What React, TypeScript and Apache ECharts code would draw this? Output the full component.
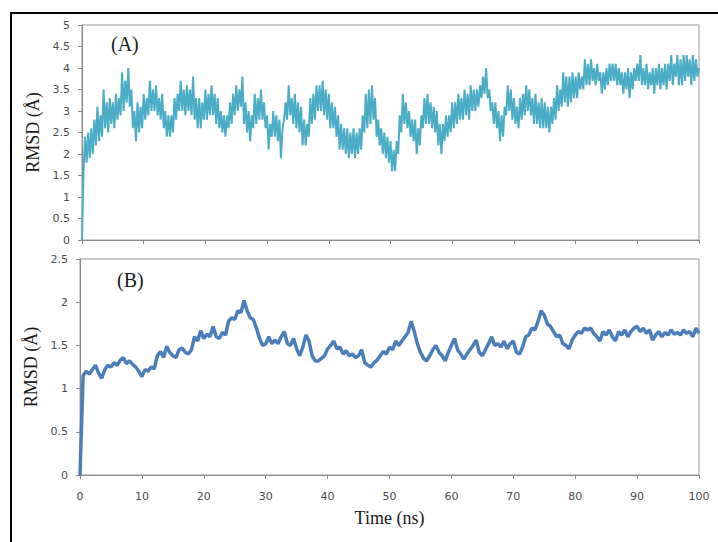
import React, { useEffect, useRef } from "react";
import * as echarts from "echarts";

// Time axes (ns)
const timeA: number[] = Array.from({ length: 401 }, (_, i) => i * 0.25);
const timeB: number[] = Array.from({ length: 201 }, (_, i) => i * 0.5);

// Panel (A) RMSD values (Å), one per 0.25 ns
const rmsdA: number[] = [
  0, 1.6, 2.4, 1.8, 2.5, 1.9, 2.6, 2.0, 2.8, 2.2, 3.1, 2.3, 2.9, 2.4, 3.5, 2.6, 3.2, 2.5, 3.3, 2.7,
  3.2, 2.6, 3.4, 2.8, 3.3, 2.9, 3.9, 3.0, 3.7, 3.2, 4.0, 3.1, 3.5, 2.6, 3.0, 2.3, 3.2, 2.5, 3.1, 2.6,
  3.4, 2.8, 3.3, 2.9, 3.7, 3.0, 3.5, 3.0, 3.6, 2.9, 3.3, 2.8, 3.4, 2.6, 3.0, 2.4, 2.9, 2.4, 2.9, 2.5,
  3.3, 2.8, 3.4, 3.0, 3.7, 3.0, 3.5, 2.9, 3.6, 3.0, 3.5, 2.9, 3.8, 2.8, 3.3, 2.6, 3.3, 2.6, 3.2, 2.8,
  3.5, 2.8, 3.4, 2.9, 3.6, 2.9, 3.4, 2.7, 3.3, 2.6, 3.0, 2.5, 2.9, 2.4, 2.9, 2.6, 3.2, 2.7, 3.4, 2.9,
  3.6, 3.0, 3.5, 3.1, 3.8, 2.7, 3.2, 2.5, 3.0, 2.3, 2.9, 2.6, 3.4, 2.7, 3.3, 2.8, 3.5, 2.8, 3.2, 2.6,
  2.9, 2.1, 2.7, 2.4, 3.0, 2.4, 2.9, 2.3, 2.8, 1.9, 2.6, 2.8, 3.2, 2.8, 3.6, 2.9, 3.3, 2.7, 3.4, 2.6,
  3.2, 2.5, 3.1, 2.2, 2.8, 2.2, 2.7, 2.4, 3.3, 2.7, 3.4, 2.8, 3.6, 3.0, 3.6, 3.0, 3.7, 2.9, 3.5, 2.8,
  3.4, 2.6, 3.2, 2.6, 3.1, 2.4, 2.9, 2.1, 2.7, 2.1, 2.6, 2.0, 2.6, 1.9, 2.5, 2.0, 2.6, 1.9, 2.5, 2.0,
  2.6, 2.1, 2.9, 2.5, 3.4, 2.6, 3.5, 2.7, 3.6, 2.8, 3.3, 2.4, 2.8, 2.2, 2.6, 2.0, 2.5, 1.9, 2.4, 1.8,
  2.3, 1.6, 2.1, 1.6, 2.3, 2.0, 2.9, 2.5, 3.4, 2.7, 3.2, 2.6, 3.0, 2.4, 2.8, 2.3, 2.8, 2.0, 2.6, 2.2,
  2.9, 2.6, 3.3, 2.7, 3.4, 2.7, 3.2, 2.6, 3.1, 2.5, 3.0, 2.2, 2.7, 2.0, 2.7, 2.3, 2.9, 2.4, 2.9, 2.5,
  3.2, 2.6, 3.2, 2.7, 3.4, 2.8, 3.3, 2.8, 3.5, 2.9, 3.4, 2.8, 3.6, 3.0, 3.5, 3.0, 3.5, 3.1, 3.6, 3.3,
  3.8, 3.4, 4.0, 3.3, 3.5, 3.0, 3.2, 2.7, 3.2, 2.6, 3.0, 2.3, 2.9, 2.4, 3.1, 2.9, 3.6, 3.0, 3.5, 2.8,
  3.3, 2.7, 3.1, 2.6, 3.3, 2.8, 3.4, 2.9, 3.6, 3.0, 3.5, 2.9, 3.3, 2.7, 3.4, 2.7, 3.2, 2.6, 3.3, 2.6,
  3.2, 2.6, 3.1, 2.5, 3.1, 2.7, 3.3, 2.8, 3.6, 3.0, 3.5, 3.1, 3.9, 3.2, 3.8, 3.1, 3.8, 3.2, 3.9, 3.3,
  3.8, 3.3, 3.9, 3.5, 3.8, 3.5, 4.2, 3.6, 4.1, 3.6, 4.2, 3.7, 4.0, 3.6, 4.1, 3.7, 3.9, 3.4, 3.9, 3.5,
  4.0, 3.6, 4.1, 3.7, 4.1, 3.7, 4.1, 3.6, 4.0, 3.6, 3.9, 3.4, 3.9, 3.5, 4.0, 3.3, 3.9, 3.5, 4.0, 3.7,
  4.1, 3.7, 4.3, 3.6, 4.0, 3.6, 4.1, 3.5, 3.9, 3.6, 4.0, 3.4, 4.0, 3.6, 4.1, 3.5, 4.0, 3.6, 4.1, 3.5,
  4.1, 3.7, 4.3, 3.6, 4.1, 3.8, 4.3, 3.6, 4.2, 3.6, 4.3, 3.7, 4.3, 3.8, 4.2, 3.6, 4.3, 3.7, 4.2, 3.8,
  4.0,
];

// Panel (B) RMSD values (Å), one per 0.5 ns
const rmsdB: number[] = [
  0, 1.15, 1.2, 1.17, 1.22, 1.27, 1.18, 1.12, 1.22, 1.27,
  1.25, 1.3, 1.27, 1.33, 1.36, 1.29, 1.32, 1.28, 1.25, 1.2,
  1.14, 1.22, 1.2, 1.25, 1.23, 1.38, 1.43, 1.36, 1.49, 1.42,
  1.38, 1.36, 1.45, 1.47, 1.42, 1.4, 1.45, 1.6, 1.55, 1.67,
  1.58, 1.63, 1.6, 1.72, 1.6, 1.58, 1.65, 1.62, 1.78, 1.82,
  1.8, 1.9, 1.88, 2.02, 1.9, 1.82, 1.8, 1.7, 1.58, 1.5,
  1.52, 1.6, 1.52, 1.56, 1.52, 1.6, 1.66, 1.52, 1.5, 1.58,
  1.46, 1.38, 1.48, 1.62, 1.55, 1.38, 1.32, 1.32, 1.35, 1.38,
  1.46, 1.5, 1.55, 1.46, 1.48, 1.4, 1.44, 1.38, 1.4, 1.36,
  1.38, 1.45, 1.3, 1.27, 1.25, 1.3, 1.33, 1.38, 1.43, 1.4,
  1.48, 1.45, 1.55, 1.5, 1.55, 1.6, 1.65, 1.78, 1.66, 1.52,
  1.42, 1.35, 1.32, 1.38, 1.45, 1.5, 1.42, 1.38, 1.32, 1.42,
  1.5, 1.58, 1.45, 1.4, 1.34, 1.4, 1.45, 1.5, 1.56, 1.42,
  1.38, 1.45, 1.52, 1.6, 1.5, 1.52, 1.48, 1.55, 1.46, 1.52,
  1.55, 1.42, 1.4, 1.48, 1.6, 1.62, 1.7, 1.68, 1.78, 1.9,
  1.85, 1.75, 1.72, 1.66, 1.6, 1.62, 1.52, 1.5, 1.46, 1.56,
  1.62, 1.66, 1.64, 1.7, 1.68, 1.7, 1.64, 1.6, 1.55, 1.66,
  1.62, 1.68, 1.6, 1.55, 1.66, 1.62, 1.68, 1.6, 1.66, 1.7,
  1.72, 1.66, 1.7, 1.64, 1.68, 1.56, 1.62, 1.66, 1.6, 1.65,
  1.62, 1.68, 1.63, 1.65, 1.62, 1.68, 1.64, 1.66, 1.6, 1.7,
  1.64,
];

const panelLabels: string[] = ["(A)", "(B)"];
const yAxisTitle = "RMSD (Å)";
const xAxisTitle = "Time (ns)";

const labelFont = "DejaVu Sans";
const serif = "Liberation Serif";

export default function App() {
  const ref = useRef<HTMLDivElement>(null);
  useEffect(() => {
    if (!ref.current) return;
    const chart = echarts.init(ref.current, undefined, { renderer: "svg" });
    const axisLineStyle = { color: "#8a8a8a", width: 1 };
    const labelStyle = { color: "#4d4d4d", fontFamily: labelFont, fontSize: 11 };
    const nameStyle = { color: "#1a1a1a", fontFamily: serif, fontSize: 18 };
    chart.setOption({
      animation: false,
      backgroundColor: "#ffffff",
      grid: [
        { left: 82, top: 25, width: 617, height: 215, show: true, borderColor: "#9a9a9a", borderWidth: 1 },
        { left: 80, top: 259, width: 619, height: 216, show: true, borderColor: "#9a9a9a", borderWidth: 1 },
      ],
      xAxis: [
        {
          gridIndex: 0, type: "value", min: 0, max: 100, interval: 10,
          axisLine: { show: true, lineStyle: axisLineStyle },
          axisTick: { show: true, length: 4, lineStyle: axisLineStyle },
          axisLabel: { show: false },
          splitLine: { show: false },
        },
        {
          gridIndex: 1, type: "value", min: 0, max: 100, interval: 10,
          axisLine: { show: true, lineStyle: axisLineStyle },
          axisTick: { show: true, length: 4, lineStyle: axisLineStyle },
          axisLabel: { ...labelStyle, margin: 16 },
          splitLine: { show: false },
          name: xAxisTitle, nameLocation: "middle", nameGap: 34,
          nameTextStyle: nameStyle,
        },
      ],
      yAxis: [
        {
          gridIndex: 0, type: "value", min: 0, max: 5, interval: 0.5,
          axisLine: { show: true, lineStyle: axisLineStyle },
          axisTick: { show: true, length: 4, lineStyle: axisLineStyle },
          axisLabel: { ...labelStyle, margin: 12 },
          splitLine: { show: false },
          name: yAxisTitle, nameLocation: "middle", nameGap: 33,
          nameTextStyle: nameStyle,
        },
        {
          gridIndex: 1, type: "value", min: 0, max: 2.5, interval: 0.5,
          axisLine: { show: true, lineStyle: axisLineStyle },
          axisTick: { show: true, length: 4, lineStyle: axisLineStyle },
          axisLabel: { ...labelStyle, margin: 12 },
          splitLine: { show: false },
          name: yAxisTitle, nameLocation: "middle", nameGap: 31,
          nameTextStyle: nameStyle,
        },
      ],
      series: [
        {
          type: "line", xAxisIndex: 0, yAxisIndex: 0, showSymbol: false,
          data: timeA.map((t, i) => [t, rmsdA[i]]),
          lineStyle: { color: "#4bacc6", width: 2 },
        },
        {
          type: "line", xAxisIndex: 1, yAxisIndex: 1, showSymbol: false,
          data: timeB.map((t, i) => [t, rmsdB[i]]),
          lineStyle: { color: "#4a7ebb", width: 3.5 },
        },
      ],
      graphic: [
        {
          type: "rect", z: 100, silent: true,
          shape: { x: 11, y: 13, width: 720, height: 540 },
          style: { fill: "none", stroke: "#000", lineWidth: 2 },
        },
        {
          type: "text", left: 111, top: 34,
          style: { text: panelLabels[0], font: `20px "${serif}"`, fill: "#1a1a1a" },
        },
        {
          type: "text", left: 117, top: 270,
          style: { text: panelLabels[1], font: `20px "${serif}"`, fill: "#1a1a1a" },
        },
      ],
    });
    return () => chart.dispose();
  }, []);
  return (
    <div
      ref={ref}
      style={{ position: "fixed", left: 0, top: 0, width: 718, height: 542 }}
    />
  );
}
